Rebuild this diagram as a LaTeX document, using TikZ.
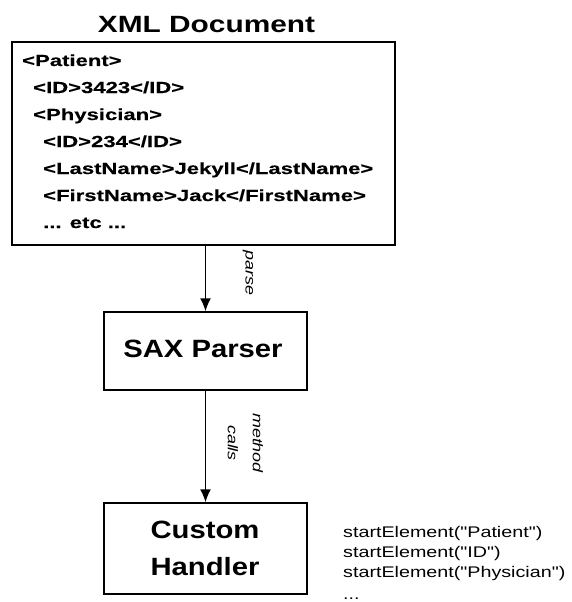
\documentclass[tikz,border=0pt]{standalone}
\usepackage{fontspec}
\setmainfont{Liberation Sans}
\newfontfamily\titlef[FakeStretch=1.27]{Liberation Sans}
\newfontfamily\codef[FakeStretch=1.38,FakeBold=0.4]{Liberation Sans}
\newfontfamily\boxf[FakeStretch=1.17]{Liberation Sans}
\newfontfamily\callf[FakeStretch=1.28]{Liberation Sans}
\usetikzlibrary{arrows.meta}
\begin{document}
\begin{tikzpicture}[x=1pt,y=-1pt,
  box/.style={draw,line width=1.5pt,inner sep=0pt},
  codeline/.style={anchor=base west,inner sep=0pt,font=\codef\bfseries\fontsize{16}{19}\selectfont},
  calltext/.style={anchor=base west,inner sep=0pt,font=\callf\fontsize{15.4}{18}\selectfont},
  boxlabel/.style={anchor=base,inner sep=0pt,font=\boxf\bfseries\fontsize{25}{30}\selectfont},
  edgelabel/.style={rotate=-90,inner sep=0pt,align=center,font=\callf\itshape\fontsize{14}{25}\selectfont},
  flow/.style={line width=1.5pt,-{Latex[length=13pt,width=11pt]}}
]
\useasboundingbox (0,0) rectangle (571,602);
% title
\node[anchor=base,inner sep=0pt,font=\titlef\bfseries\fontsize{23.5}{28}\selectfont] (title) at (206.5,33) {XML Document};
% boxes
\node[box,minimum width=383pt,minimum height=203pt] (xml) at (203.5,143.5) {};
\node[box,minimum width=203pt,minimum height=78pt] (sax) at (205.5,351) {};
\node[box,minimum width=203pt,minimum height=91pt] (handler) at (205.5,548.5) {};
% xml content
\node[codeline] (l1) at (22,66) {<Patient>};
\node[codeline] (l2) at (33,93) {<ID>3423</ID>};
\node[codeline] (l3) at (33,120) {<Physician>};
\node[codeline] (l4) at (43,147) {<ID>234</ID>};
\node[codeline] (l5) at (43,174) {<LastName>Jekyll</LastName>};
\node[codeline] (l6) at (43,201) {<FirstName>Jack</FirstName>};
\node[codeline] (l7) at (43,228) {... etc ...};
% box labels
\node[boxlabel] (saxtext) at (203,357) {SAX Parser};
\node[boxlabel] (h1) at (205,538) {Custom};
\node[boxlabel] (h2) at (205,575) {Handler};
% connectors
\draw[flow] (sax.north |- xml.south) -- (sax.north);
\draw[flow] (sax.south) -- (handler.north);
% edge labels
\node[edgelabel] (parse) at (248,273) {parse};
\node[edgelabel] (mcalls) at (245.5,443) {method\\calls};
% calls list
\node[calltext] (c1) at (343,537) {startElement("Patient")};
\node[calltext] (c2) at (343,557) {startElement("ID")};
\node[calltext] (c3) at (343,577) {startElement("Physician")};
\node[calltext] (c4) at (343,599) {...};
\end{tikzpicture}
\end{document}
